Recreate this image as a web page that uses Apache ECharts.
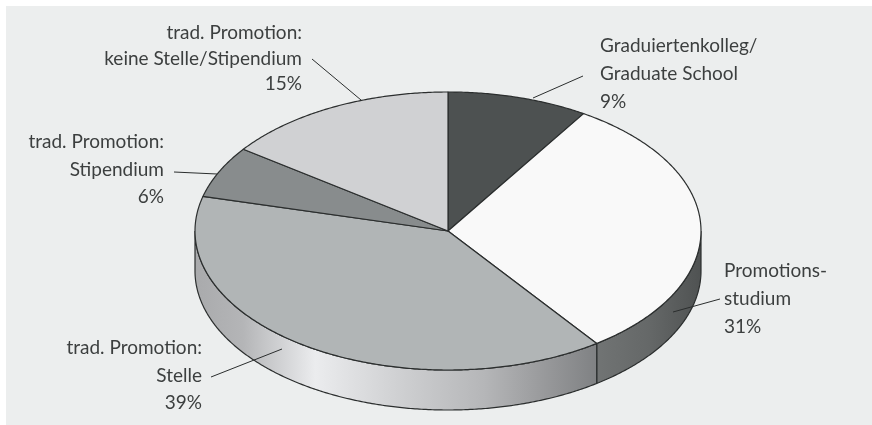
<!DOCTYPE html>
<html>
<head>
<meta charset="utf-8">
<style>
  html, body { margin: 0; padding: 0; background: #fff; }
  #main { width: 872px; height: 425px; }
</style>
<script src="https://cdn.jsdelivr.net/npm/echarts@6/dist/echarts.min.js"></script>
</head>
<body>
<div id="main"></div>
<script>
// Anteile im Uhrzeigersinn ab 12 Uhr
var names = [
  ['Graduiertenkolleg/', 'Graduate School'],
  ['Promotions-', 'studium'],
  ['trad. Promotion:', 'Stelle'],
  ['trad. Promotion:', 'Stipendium'],
  ['trad. Promotion:', 'keine Stelle/Stipendium']
];
var values = [9, 31, 39, 6, 15];
var topColors = ['#4d5151', '#f9f9f9', '#b1b5b6', '#888c8d', '#d0d1d3'];

// Textanker (x, y, Ausrichtung, Zeilenabstand) und Hinweislinien
var labelPos = [
  [600, 45.5, 'left', 28],
  [724, 271, 'left', 28],
  [202, 348, 'right', 27.5],
  [164, 142, 'right', 27.5],
  [302, 33, 'right', 25.5]
];
var leaders = [
  [[583, 76], [533, 98]],
  [[720, 299], [673, 312]],
  [[211, 377], [282, 349]],
  [[174, 172], [217, 174]],
  [[312, 59], [361, 100]]
];

var cx = 448, cy = 231, rx = 253, ry = 139, depth = 40;
var lineColor = '#2b2e2e', textColor = '#3c3f3f';
var fontFamily = 'Lato, sans-serif';

var wallColors = [
  null,
  new echarts.graphic.LinearGradient(0, 0, 1, 0, [
    { offset: 0, color: '#717474' }, { offset: 0.5, color: '#656868' }, { offset: 1, color: '#4f5252' }
  ]),
  new echarts.graphic.LinearGradient(0, 0, 1, 0, [
    { offset: 0, color: '#a9aaac' }, { offset: 0.12, color: '#b4b5b7' }, { offset: 0.3, color: '#ebecee' },
    { offset: 0.5, color: '#d0d1d3' }, { offset: 0.72, color: '#b5b6b8' }, { offset: 0.87, color: '#98999b' },
    { offset: 1, color: '#7f8183' }
  ]),
  null,
  null
];

function rimPoint(deg, dy) {
  var t = deg * Math.PI / 180;
  return [cx + rx * Math.sin(t), cy - ry * Math.cos(t) + (dy || 0)];
}

function renderSlice(params, api) {
  var i = api.value(0);
  var a = api.value(2) * 3.6;
  var b = (api.value(2) + api.value(1)) * 3.6;
  var children = [];

  // Seitenwand nur im vorderen Bereich (90-270 Grad)
  var wa = Math.max(a, 90), wb = Math.min(b, 270);
  if (wb > wa && wallColors[i]) {
    var wall = [], d;
    for (d = wa; d <= wb; d += 0.5) wall.push(rimPoint(d));
    wall.push(rimPoint(wb));
    wall.push(rimPoint(wb, depth));
    for (d = wb; d >= wa; d -= 0.5) wall.push(rimPoint(d, depth));
    wall.push(rimPoint(wa, depth));
    children.push({
      type: 'polygon', z2: 1, shape: { points: wall },
      style: { fill: wallColors[i], stroke: lineColor, lineWidth: 1.2 }
    });
  }

  // Deckfläche
  var pts = [[cx, cy]], s;
  for (s = a; s < b; s += 0.5) pts.push(rimPoint(s));
  pts.push(rimPoint(b));
  children.push({
    type: 'polygon', z2: 2, shape: { points: pts },
    style: { fill: topColors[i], stroke: lineColor, lineWidth: 1.2, lineJoin: 'round' }
  });

  // Hinweislinie
  children.push({
    type: 'line', z2: 3,
    shape: { x1: leaders[i][0][0], y1: leaders[i][0][1], x2: leaders[i][1][0], y2: leaders[i][1][1] },
    style: { stroke: lineColor, lineWidth: 1, fill: null }
  });

  // Beschriftung
  var lines = names[i].concat([values[i] + '%']);
  lines.forEach(function (txt, k) {
    children.push({
      type: 'text', z2: 4,
      style: {
        x: labelPos[i][0], y: labelPos[i][1] + k * labelPos[i][3],
        text: txt, fill: textColor, align: labelPos[i][2], verticalAlign: 'middle',
        font: '19px ' + fontFamily
      }
    });
  });

  return { type: 'group', children: children };
}

var cumulative = 0;
var sliceData = values.map(function (v, i) {
  var row = [i, v, cumulative];
  cumulative += v;
  return row;
});

var myChart = echarts.init(document.getElementById('main'), null, { renderer: 'canvas' });
myChart.setOption({
  animation: false,
  backgroundColor: '#ffffff',
  graphic: [{
    type: 'rect', z: -1, silent: true,
    shape: { x: 6, y: 6, width: 866, height: 419 },
    style: { fill: '#eceeee' }
  }],
  series: [{
    type: 'custom',
    coordinateSystem: 'none',
    silent: true,
    data: sliceData,
    renderItem: renderSlice
  }]
});
</script>
</body>
</html>
